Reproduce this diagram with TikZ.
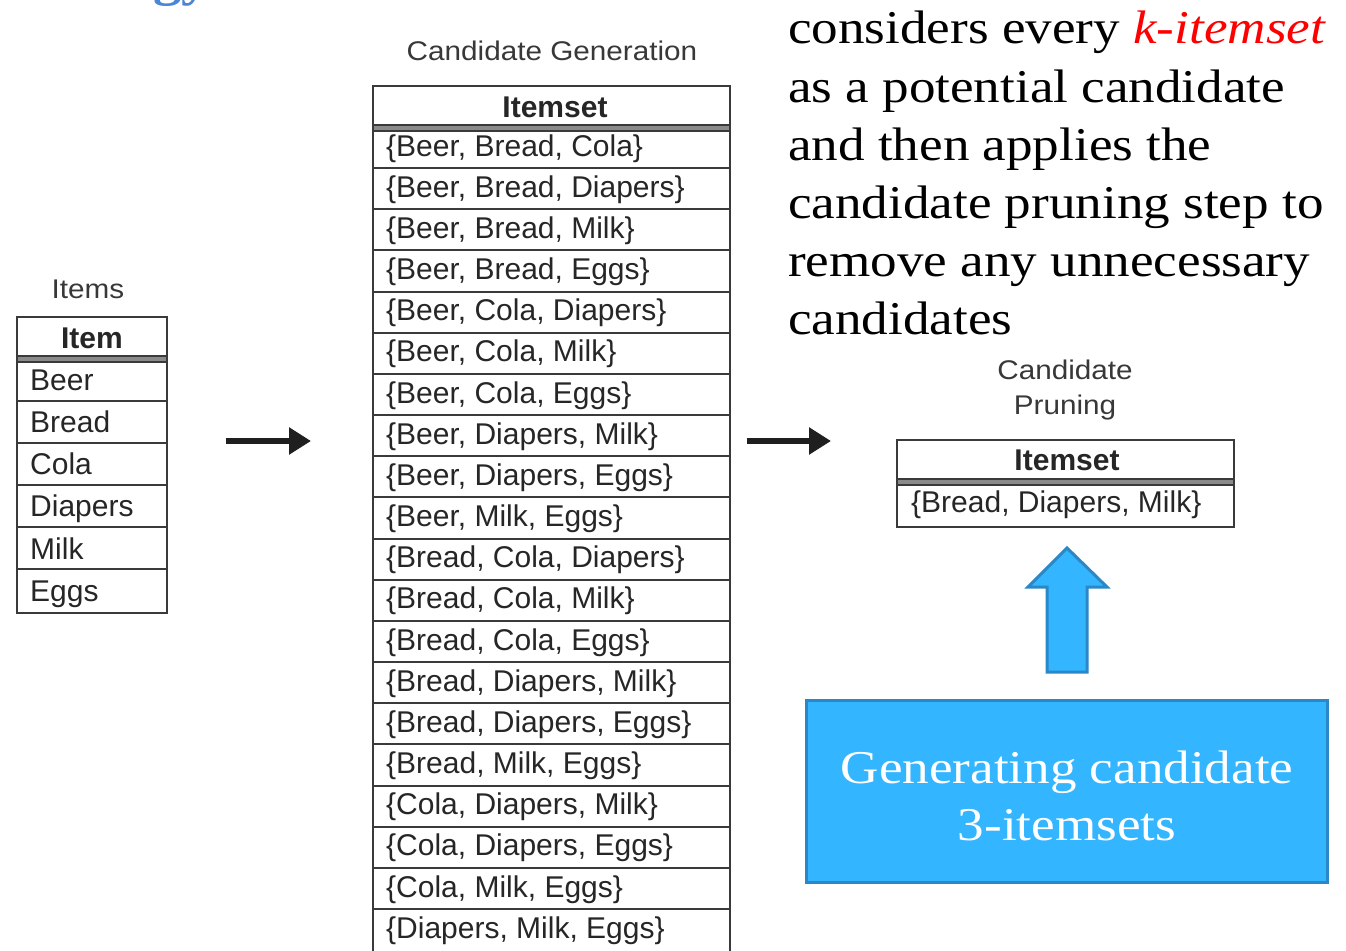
\documentclass[tikz,border=0pt]{standalone}
\usepackage{fontspec}
\setmainfont{Liberation Serif}
\newfontfamily\gfont[FakeStretch=1.13]{Liberation Serif}
\newfontfamily\tabfont{Liberation Sans}
\newfontfamily\ttlfont[FakeStretch=1.1]{Liberation Sans}
\usetikzlibrary{arrows.meta}
\definecolor{tabline}{HTML}{3A3A3A}
\definecolor{tabtext}{HTML}{262626}
\definecolor{barcol}{HTML}{8A8A8A}
\definecolor{boxblue}{HTML}{33B5FF}
\definecolor{boxedge}{HTML}{2A88C6}
\definecolor{titleblue}{HTML}{4A86D8}
\definecolor{kred}{HTML}{FF0000}
\tikzset{
  cell/.style={font=\tabfont\fontsize{30}{36}\selectfont, text=tabtext, anchor=base west, inner sep=0pt},
  hcell/.style={font=\tabfont\bfseries\fontsize{30}{36}\selectfont, text=tabtext, anchor=base, inner sep=0pt},
  ttl/.style={font=\ttlfont\fontsize{27}{32}\selectfont, text=black!78, anchor=base, inner sep=0pt},
  tabframe/.style={draw=tabline, line width=2pt},
  hbar/.style={fill=barcol},
  para/.style={font=\gfont\fontsize{47}{57}\selectfont, anchor=base west, inner sep=0pt},
  boxtext/.style={font=\gfont\fontsize{47}{57}\selectfont, text=white, anchor=base, inner sep=0pt},
  bigarrow/.style={line width=6pt, draw=black!88, -{Triangle[length=22pt,width=26pt]}},
  blockblue/.style={fill=boxblue, draw=boxedge, line width=3pt, line join=miter},
}
\begin{document}
\begin{tikzpicture}[x=1pt,y=-1pt]
\useasboundingbox (0,0) rectangle (1346,950);

% cut-off title fragment
\node[font=\gfont\bfseries\fontsize{50}{60}\selectfont, text=titleblue, anchor=base west, inner sep=0pt] (frag) at (153,-4) {gy};

% ---- Items table ----
\node[ttl] (itemsttl) at (88,298) {Items};
\fill[hbar] (17,356) rectangle (167,362);
\draw[tabframe] (17,317) rectangle (167,613);
\foreach \yy in {356,362,401,443,485,527,569} \draw[tabframe] (17,\yy) -- (167,\yy);
\node[hcell] (ihead) at (92,348) {Item};
\foreach \s [count=\i from 0] in {Beer,Bread,Cola,Diapers,Milk,Eggs}
  \node[cell] (it\i) at (30,{390+42.3*\i}) {\s};

% ---- arrows ----
\coordinate (a1s) at (226,441);
\coordinate (a1e) at (311,441);
\coordinate (a2s) at (747,441);
\coordinate (a2e) at (831,441);
\draw[bigarrow] (a1s) -- (a1e);
\draw[bigarrow] (a2s) -- (a2e);

% ---- Candidate generation table ----
\node[ttl] (genttl) at (552,60) {Candidate Generation};
\fill[hbar] (373,125) rectangle (730,131);
\draw[tabframe] (373,86) rectangle (730,960);
\draw[tabframe] (373,125) -- (730,125);
\draw[tabframe] (373,131) -- (730,131);
\foreach \k in {0,...,18} \draw[tabframe] (373,{168+41.17*\k}) -- (730,{168+41.17*\k});
\node[hcell] (ghead) at (555,117) {Itemset};
\foreach \s [count=\i from 0] in {
  {\{Beer, Bread, Cola\}},
  {\{Beer, Bread, Diapers\}},
  {\{Beer, Bread, Milk\}},
  {\{Beer, Bread, Eggs\}},
  {\{Beer, Cola, Diapers\}},
  {\{Beer, Cola, Milk\}},
  {\{Beer, Cola, Eggs\}},
  {\{Beer, Diapers, Milk\}},
  {\{Beer, Diapers, Eggs\}},
  {\{Beer, Milk, Eggs\}},
  {\{Bread, Cola, Diapers\}},
  {\{Bread, Cola, Milk\}},
  {\{Bread, Cola, Eggs\}},
  {\{Bread, Diapers, Milk\}},
  {\{Bread, Diapers, Eggs\}},
  {\{Bread, Milk, Eggs\}},
  {\{Cola, Diapers, Milk\}},
  {\{Cola, Diapers, Eggs\}},
  {\{Cola, Milk, Eggs\}},
  {\{Diapers, Milk, Eggs\}}}
  \node[cell] (g\i) at (386,{156+41.17*\i}) {\s};

% ---- paragraph ----
\node[para] (p1) at (788,44) {considers every \textcolor{kred}{\itshape k-itemset}};
\node[para] (p2) at (788,102) {as a potential candidate};
\node[para] (p3) at (788,160) {and then applies the};
\node[para] (p4) at (788,218) {candidate pruning step to};
\node[para] (p5) at (788,276) {remove any unnecessary};
\node[para] (p6) at (788,334) {candidates};

% ---- Candidate pruning table ----
\node[ttl] (prttl1) at (1065,379) {Candidate};
\node[ttl] (prttl2) at (1065,414) {Pruning};
\fill[hbar] (897,479) rectangle (1234,485);
\draw[tabframe] (897,440) rectangle (1234,527);
\draw[tabframe] (897,479) -- (1234,479);
\draw[tabframe] (897,485) -- (1234,485);
\node[hcell] (phead) at (1067,470) {Itemset};
\node[cell] (prow) at (911,512) {\{Bread, Diapers, Milk\}};

% ---- blue block arrow ----
\draw[blockblue] (1047,672) -- (1047,587) -- (1028,587) -- (1067,548) -- (1107,587) -- (1087,587) -- (1087,672) -- cycle;

% ---- blue box ----
\draw[blockblue] (806,700) rectangle (1327,882);
\node[boxtext] (b1) at (1067,783) {Generating candidate};
\node[boxtext] (b2) at (1067,840) {3-itemsets};
\end{tikzpicture}
\end{document}
